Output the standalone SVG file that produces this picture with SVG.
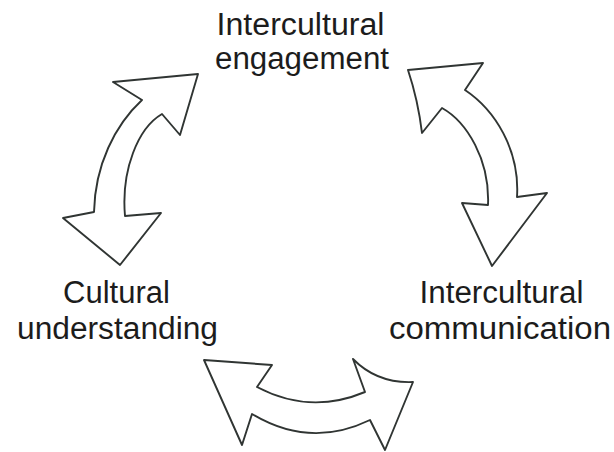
<svg xmlns="http://www.w3.org/2000/svg" width="614" height="452" viewBox="0 0 614 452">
  <style>
    .label { font-family: "Liberation Sans", Arial, sans-serif; font-size: 31px; fill: #1c1c1c; text-anchor: middle; }
    .arrow { fill: #ffffff; stroke: #303533; stroke-width: 1.9; stroke-linejoin: round; stroke-linecap: round; }
  </style>
  <rect width="614" height="452" fill="#ffffff"/>

  <g id="node-engagement">
    <text class="label" x="300.5" y="35" textLength="168" lengthAdjust="spacingAndGlyphs">Intercultural</text>
    <text class="label" x="302" y="69" textLength="174" lengthAdjust="spacingAndGlyphs">engagement</text>
  </g>

  <g id="node-understanding">
    <text class="label" x="116.5" y="303">Cultural</text>
    <text class="label" x="117.5" y="339" textLength="201" lengthAdjust="spacingAndGlyphs">understanding</text>
  </g>

  <g id="node-communication">
    <text class="label" x="501.5" y="303" textLength="164" lengthAdjust="spacingAndGlyphs">Intercultural</text>
    <text class="label" x="500" y="339" textLength="222" lengthAdjust="spacingAndGlyphs">communication</text>
  </g>

  <g id="connectors">
    <!-- engagement <-> understanding -->
    <path id="arrow-left" class="arrow" d="M198,74 L180,135 L162,114 C138,128 121,170 125,216 L161,213 L120,265 L63,218 L94,212 C95,165 115,125 142,100 L113,82 Z"/>
    <!-- engagement <-> communication -->
    <path id="arrow-right" class="arrow" d="M408,70 L483,63 L465,90 C495,110 520,150 517,197 L547,193 L492,266 L462,203 L488,205 C490,160 467,122 442,108 L422,133 Q418,100 408,70 Z"/>
    <!-- understanding <-> communication -->
    <path id="arrow-bottom" class="arrow" d="M204,360 L272,365 L257,387 Q310,415 365,392 L353,359 Q377,383.5 413,382 L385,450 L370,420 Q310,449 252,414 L242,445 Z"/>
  </g>
</svg>
